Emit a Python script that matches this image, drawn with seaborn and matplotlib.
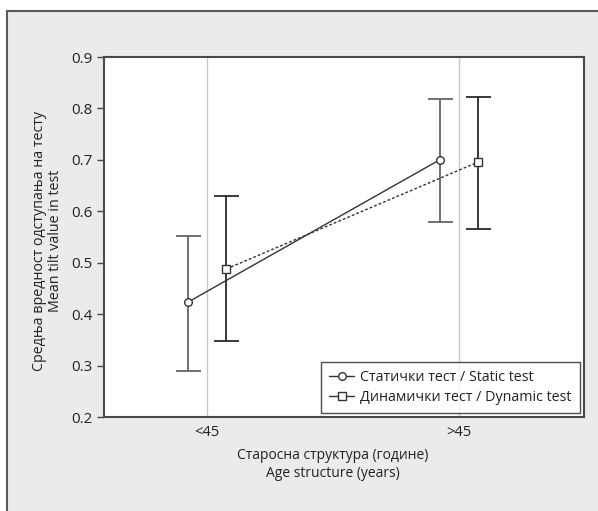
import numpy as np
import pandas as pd
import matplotlib
matplotlib.use("Agg")
import matplotlib.pyplot as plt
from matplotlib.patches import Rectangle
import seaborn as sns

# data
age_groups = ["<45", ">45"]
tests = ["Статички тест / Static test", "Динамички тест / Dynamic test"]
static_mean = [0.423, 0.700]
static_low = [0.290, 0.580]
static_high = [0.552, 0.818]
dynamic_mean = [0.488, 0.696]
dynamic_low = [0.347, 0.566]
dynamic_high = [0.629, 0.823]

df = pd.DataFrame({
    "age": age_groups * 2,
    "test": [tests[0]] * 2 + [tests[1]] * 2,
    "value": static_mean + dynamic_mean,
})

sns.set_style("white")
plt.rcParams["font.family"] = ["Open Sans", "DejaVu Sans"]

fig = plt.figure(figsize=(5.98, 5.11), dpi=100)
fig.patch.set_facecolor("white")
# outer grey panel
fig.patches.append(Rectangle((7 / 598, -0.05), 1.2, 1 - 11 / 511 + 0.05,
                             transform=fig.transFigure, facecolor="#ebebed",
                             edgecolor="#5a5a5a", linewidth=1.5, zorder=-10))

ax = fig.add_axes([104 / 598, 1 - 417 / 511, 480 / 598, 360 / 511])
ax.set_facecolor("white")

dodge = 0.154
sns.pointplot(data=df, x="age", y="value", hue="test", order=age_groups,
              hue_order=tests, dodge=dodge, errorbar=None,
              markers=["o", "s"], linestyles=["-", (0, (2, 1.5))],
              palette=["#333333", "#333333"], markersize=5.5,
              markerfacecolor="white", markeredgewidth=1.0, linewidth=1.0,
              ax=ax, zorder=5)

offsets = [-dodge / 2, dodge / 2]
err_colors = ["#666666", "#2a2a2a"]
for k, (m, lo, hi) in enumerate([(static_mean, static_low, static_high),
                                 (dynamic_mean, dynamic_low, dynamic_high)]):
    xs = np.arange(len(age_groups)) + offsets[k]
    m = np.array(m)
    ax.errorbar(xs, m, yerr=[m - np.array(lo), np.array(hi) - m], fmt="none",
                ecolor=err_colors[k], elinewidth=1.3, capsize=9, capthick=1.3,
                zorder=3)

for i in range(len(age_groups)):
    ax.axvline(i, color="#c8c8c8", linewidth=1.0, zorder=1)

ax.set_xlim(-0.409, 1.496)
ax.set_ylim(0.2, 0.9)
ax.set_yticks(np.arange(0.2, 0.91, 0.1))
ax.set_yticklabels([f"{v:.1f}" for v in np.arange(0.2, 0.91, 0.1)])
ax.tick_params(axis="y", length=5, width=1, color="#444444", labelsize=11,
               labelcolor="#222222", left=True, pad=3)
ax.tick_params(axis="x", length=0, labelsize=10.5, labelcolor="#222222", pad=6)
for s in ax.spines.values():
    s.set_color("#4a4a4a")
    s.set_linewidth(1.5)

ax.set_xlabel("Старосна структура (године)\nAge structure (years)",
              fontsize=10, color="#222222", linespacing=1.3, labelpad=12)
ax.xaxis.set_label_coords(0.477, -0.085, transform=ax.transAxes)
ax.xaxis.label.set_verticalalignment("top")
ax.set_ylabel("Средња вредност одступања на тесту\nMean tilt value in test",
              fontsize=10.3, color="#222222", linespacing=1.15)
ax.yaxis.set_label_coords(-0.085, 0.49)

handles, labels = ax.get_legend_handles_labels()
leg = ax.legend(handles, labels, loc="lower right", fontsize=10.3,
                frameon=True, fancybox=False, handlelength=1.75,
                handletextpad=0.45, borderpad=0.55, labelspacing=0.35,
                borderaxespad=0.3, edgecolor="#222222")
leg.get_frame().set_linewidth(1.0)
for line in leg.get_lines():
    line.set_linestyle("-")
for t in leg.get_texts():
    t.set_color("#222222")

fig.savefig("out.png", dpi=100)
